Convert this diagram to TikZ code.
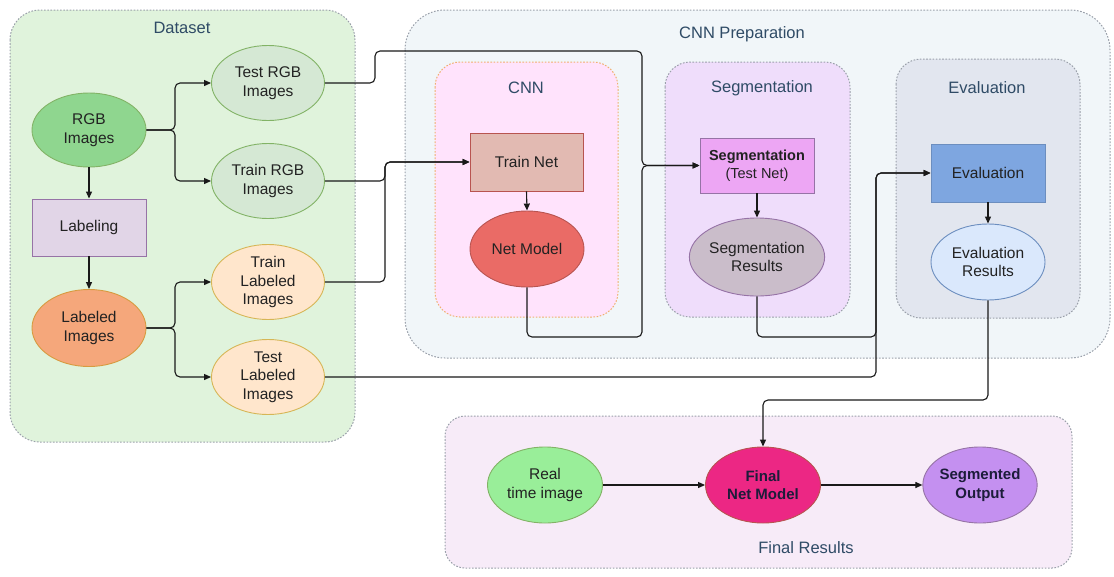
\documentclass[tikz,border=0pt]{standalone}
\usepackage{fontspec}
\setmainfont{Liberation Sans}
\usetikzlibrary{shapes.geometric,arrows.meta}
\definecolor{dsfill}{HTML}{E0F3DC}
\definecolor{prepfill}{HTML}{F1F6F9}
\definecolor{cnnfill}{HTML}{FFE3FC}
\definecolor{cnnborder}{HTML}{F0B070}
\definecolor{segfill}{HTML}{EFDDFB}
\definecolor{evfill}{HTML}{E2E6EF}
\definecolor{finfill}{HTML}{F7EBF8}
\definecolor{panelborder}{HTML}{9AA0AA}
\definecolor{titlecol}{HTML}{2F4B66}
\definecolor{txt}{HTML}{222222}
\definecolor{navy}{HTML}{1C1C3A}
\definecolor{greenA}{HTML}{8FD68F}
\definecolor{greenB}{HTML}{D5E8D4}
\definecolor{greenBd}{HTML}{82B366}
\definecolor{lilac}{HTML}{E1D5E7}
\definecolor{lilacBd}{HTML}{9673A6}
\definecolor{orangeA}{HTML}{F5A77B}
\definecolor{orangeBd}{HTML}{D79B40}
\definecolor{peach}{HTML}{FFE6CC}
\definecolor{peachBd}{HTML}{D6B656}
\definecolor{rosy}{HTML}{E2BAB2}
\definecolor{redBd}{HTML}{B85450}
\definecolor{redA}{HTML}{EA6B66}
\definecolor{violet}{HTML}{EDA6F4}
\definecolor{mauve}{HTML}{CABDCA}
\definecolor{blueA}{HTML}{7EA6E0}
\definecolor{blueBd}{HTML}{6C8EBF}
\definecolor{blueB}{HTML}{DAE8FC}
\definecolor{greenC}{HTML}{99EE99}
\definecolor{hotpink}{HTML}{EC2784}
\definecolor{purpleA}{HTML}{C490F0}
\tikzset{
  panel/.style={draw=panelborder, line width=1pt, dash pattern=on 1.6pt off 1.6pt},
  ptitle/.style={text=titlecol, font=\fontsize{16.5}{19}\selectfont, inner sep=0},
  ell/.style={ellipse, draw, line width=0.9pt, minimum width=114pt, minimum height=76pt, inner sep=0, align=center, text=txt, font=\fontsize{15.5}{18.5}\selectfont},
  boxn/.style={rectangle, draw, line width=0.9pt, minimum width=114pt, minimum height=57pt, inner sep=0, align=center, text=txt, font=\fontsize{15.5}{18.5}\selectfont},
  boldell/.style={ell, text=navy, font=\bfseries\fontsize{15}{18.5}\selectfont},
  conn/.style={draw=black!90, line width=1.1pt, rounded corners=5pt, -{Triangle[length=7pt,width=6pt]}},
}
\begin{document}
\begin{tikzpicture}[x=1pt,y=-1pt]
\useasboundingbox (0,0) rectangle (1114,576);
% panels
\path[panel, fill=dsfill, rounded corners=30pt] (10,10) rectangle (355,442);
\node[ptitle] (tDataset) at (182,28) {Dataset};
\path[panel, fill=prepfill, rounded corners=40pt] (405,10) rectangle (1110,358);
\node[ptitle] (tPrep) at (742,34) {CNN Preparation};
\path[panel, draw=cnnborder, fill=cnnfill, rounded corners=25pt] (435,62) rectangle (618,317);
\node[ptitle] (tCNN) at (526,88) {CNN};
\path[panel, fill=segfill, rounded corners=25pt] (665,62) rectangle (850,317);
\node[ptitle] (tSeg) at (762,88) {Segmentation};
\path[panel, fill=evfill, rounded corners=25pt] (896,59) rectangle (1080,318);
\node[ptitle] (tEval) at (987,88) {Evaluation};
\path[panel, fill=finfill, rounded corners=20pt] (445,416) rectangle (1072,568);
\node[ptitle] (tFinal) at (806,548) {Final Results};
% dataset nodes
\node[ell, fill=greenA, draw=greenBd, minimum height=74pt] (RGB) at (89,130) {RGB\\Images};
\node[ell, fill=greenB, draw=greenBd, minimum width=113pt, minimum height=75pt] (TestRGB) at (268,83) {Test RGB\\Images};
\node[ell, fill=greenB, draw=greenBd, minimum width=113pt, minimum height=75pt] (TrainRGB) at (268,181) {Train RGB\\Images};
\node[boxn, fill=lilac, draw=lilacBd] (Labeling) at (89,227.5) {Labeling};
\node[ell, fill=orangeA, draw=orangeBd, minimum height=77pt] (Labeled) at (89,328) {Labeled\\Images};
\node[ell, fill=peach, draw=peachBd, minimum width=113pt, minimum height=75pt] (TrainLab) at (268,282) {Train\\Labeled\\Images};
\node[ell, fill=peach, draw=peachBd, minimum width=113pt, minimum height=75pt] (TestLab) at (268,377) {Test\\Labeled\\Images};
% CNN nodes
\node[boxn, fill=rosy, draw=redBd, minimum width=113pt, minimum height=58pt] (TrainNet) at (526.5,162) {Train Net};
\node[ell, fill=redA, draw=redBd] (NetModel) at (527,249) {Net Model};
% segmentation nodes
\node[boxn, fill=violet, draw=lilacBd, minimum height=55pt] (SegBox) at (757,165.5) {{\bfseries\fontsize{14.5}{17.5}\selectfont Segmentation}\\{\fontsize{14.5}{17.5}\selectfont (Test Net)}};
\node[ell, fill=mauve, draw=lilacBd, minimum width=128pt, minimum height=78pt] (SegRes) at (757,257) {Segmentation\\Results};
% evaluation nodes
\node[boxn, fill=blueA, draw=blueBd, minimum height=58pt] (EvalBox) at (988,173) {Evaluation};
\node[ell, fill=blueB, draw=blueBd] (EvalRes) at (988,262) {Evaluation\\Results};
% final nodes
\node[ell, fill=greenC, draw=greenBd, minimum width=115pt, minimum height=76pt] (Real) at (545,485) {Real\\time image};
\node[boldell, fill=hotpink, draw=redBd, minimum width=115pt, minimum height=76pt] (FinalNet) at (763,485) {Final\\Net Model};
\node[boldell, fill=purpleA, draw=lilacBd, minimum width=114pt, minimum height=76pt] (SegOut) at (980,485) {Segmented\\Output};
% connectors
\draw[conn] (RGB.east) -- (175,130) -- (175,83) -- (TestRGB.west);
\draw[conn] (RGB.east) -- (175,130) -- (175,181) -- (TrainRGB.west);
\draw[conn] (RGB.south) -- (Labeling.north);
\draw[conn] (Labeling.south) -- (Labeled.north);
\draw[conn] (Labeled.east) -- (175,328) -- (175,282) -- (TrainLab.west);
\draw[conn] (Labeled.east) -- (175,328) -- (175,377) -- (TestLab.west);
\draw[conn] (TestRGB.east) -- (375,83) -- (375,51) -- (642,51) -- (642,165.5) -- (SegBox.west);
\draw[conn] (NetModel.south) -- (527,337) -- (642,337) -- (642,165.5) -- (SegBox.west);
\draw[conn] (TrainRGB.east) -- (385,181) -- (385,162) -- (TrainNet.west);
\draw[conn] (TrainLab.east) -- (385,282) -- (385,162) -- (TrainNet.west);
\draw[conn] (TrainNet.south) -- (NetModel.north);
\draw[conn] (SegBox.south) -- (SegRes.north);
\draw[conn] (SegRes.south) -- (757,337) -- (876,337) -- (876,173) -- (EvalBox.west);
\draw[conn] (TestLab.east) -- (876,377) -- (876,173) -- (EvalBox.west);
\draw[conn] (EvalBox.south) -- (EvalRes.north);
\draw[conn] (EvalRes.south) -- (988,400) -- (763,400) -- (FinalNet.north);
\draw[conn] (Real.east) -- (FinalNet.west);
\draw[conn] (FinalNet.east) -- (SegOut.west);
\end{tikzpicture}
\end{document}
